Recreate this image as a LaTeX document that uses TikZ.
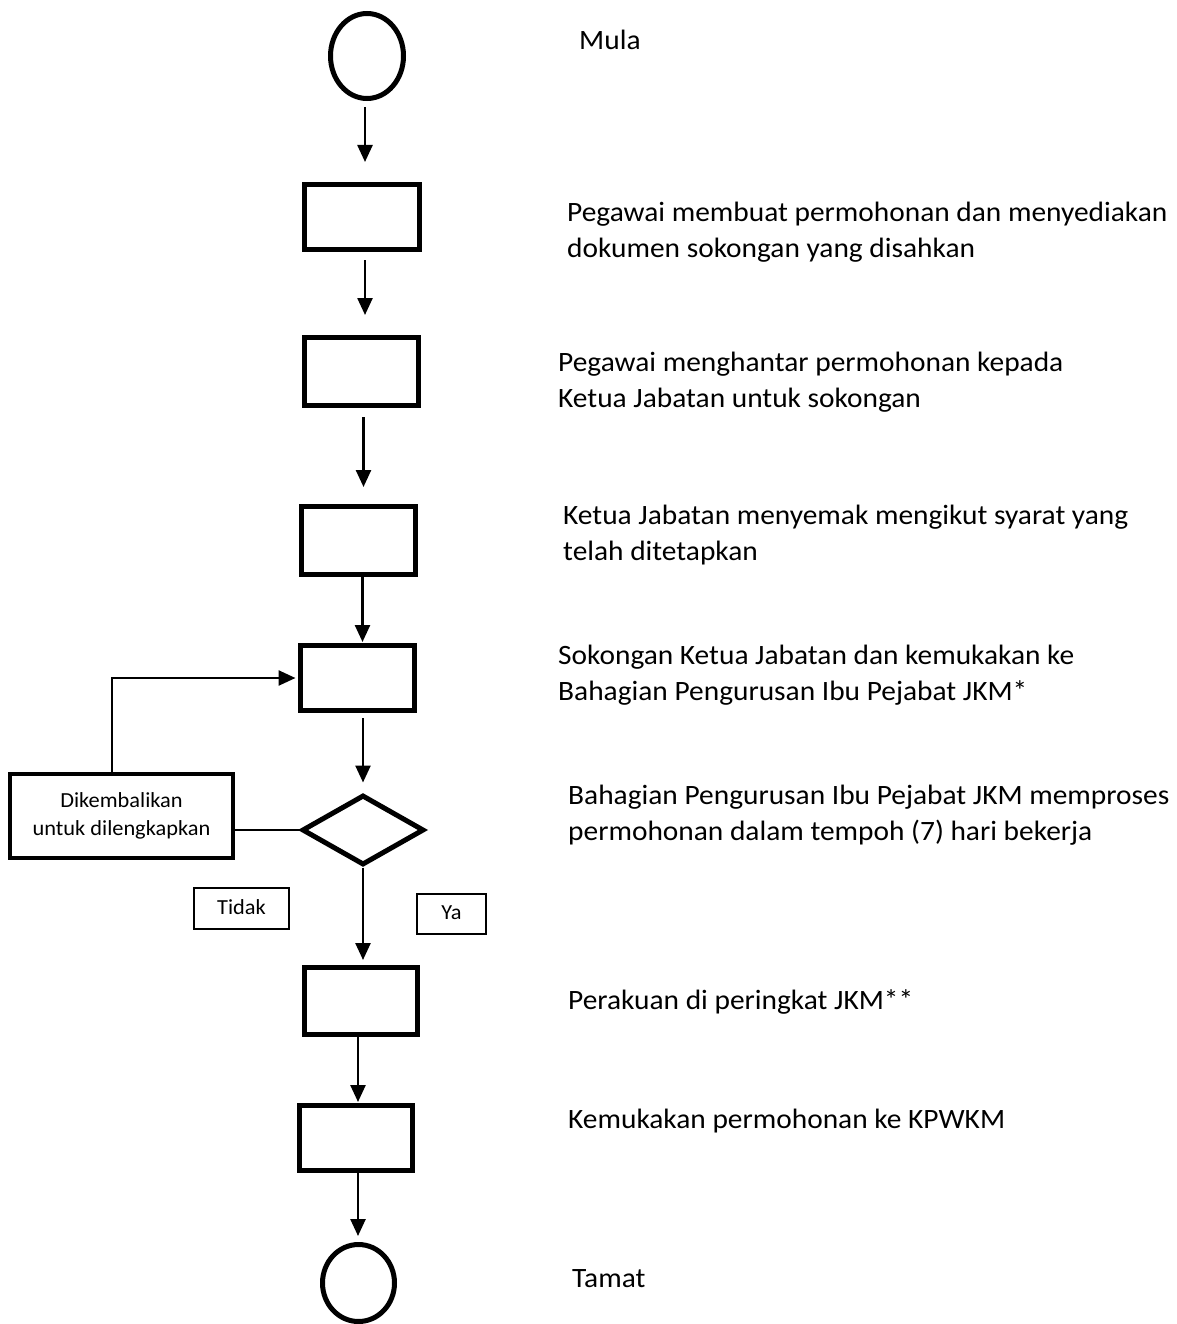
\documentclass[tikz,border=0pt]{standalone}
\usepackage{fontspec}
\setmainfont{Carlito}
\newfontfamily\descfont{Carlito}[FakeStretch=1.05]
\newfontfamily\smallfont{Carlito}[FakeStretch=1.04]
\usetikzlibrary{arrows.meta,shapes.geometric,calc}
\begin{document}
\begin{tikzpicture}[x=1pt,y=-1pt,
  proc/.style={draw,line width=5pt,rectangle,inner sep=0pt},
  term/.style={draw,line width=5pt,ellipse,inner sep=0pt},
  decide/.style={draw,line width=5pt,diamond,inner sep=0pt,line join=miter},
  thinbox/.style={draw,line width=2pt,rectangle,inner sep=0pt,font=\smallfont\fontsize{21.5}{28}\selectfont,align=center},
  arr/.style={line width=2.5pt,-{Triangle[length=17pt,width=15pt]}},
  conn/.style={line width=2.5pt},
  lbl/.style={anchor=base west,inner sep=0pt,font=\descfont\fontsize{28}{36}\selectfont,align=left}
]
\useasboundingbox (0,0) rectangle (1176,1324);
\fill[white] (0,0) rectangle (1176,1324);

% flow nodes
\node[term,minimum width=73pt,minimum height=85pt] (start) at (367,56) {};
\node[proc,minimum width=115pt,minimum height=65pt] (b1) at (362,217) {};
\node[proc,minimum width=114pt,minimum height=68pt] (b2) at (361.5,371.5) {};
\node[proc,minimum width=114pt,minimum height=68pt] (b3) at (358.5,540.5) {};
\node[proc,minimum width=114pt,minimum height=65pt] (b4) at (357.5,678) {};
\node[decide,minimum width=122pt,minimum height=70pt] (dia) at (363,830) {};
\node[thinbox,line width=3.5pt,minimum width=223pt,minimum height=84pt] (ret) at (121.5,816) {Dikembalikan\\untuk dilengkapkan};
\node[thinbox,minimum width=95pt,minimum height=41pt,text depth=2pt] (tidak) at (241.5,908.5) {Tidak};
\node[thinbox,minimum width=69pt,minimum height=40pt,text depth=2pt] (ya) at (451.5,914) {Ya};
\node[proc,minimum width=113pt,minimum height=67pt] (b5) at (361,1001) {};
\node[proc,minimum width=113pt,minimum height=65pt] (b6) at (356,1138) {};
\node[term,minimum width=72pt,minimum height=77pt] (end) at (358.5,1283) {};

% connectors
\draw[arr,shorten <=6pt,shorten >=20pt] ([xshift=-2pt]start.south) -- ([xshift=-2pt]start.south |- b1.north);
\draw[arr,shorten <=8pt,shorten >=20pt] ([xshift=3pt]b1.south) -- ([xshift=3pt]b1.south |- b2.north);
\draw[arr,shorten <=9pt,shorten >=17pt] ([xshift=2pt]b2.south) -- ([xshift=2pt]b2.south |- b3.north);
\draw[arr,shorten <=0pt,shorten >=1pt] ([xshift=4pt]b3.south) -- ([xshift=4pt]b3.south |- b4.north);
\draw[arr,shorten <=5pt,shorten >=10pt] ([xshift=5.5pt]b4.south) -- ([xshift=5.5pt]b4.south |- dia.north);
\draw[arr,shorten >=5pt] (dia.south) -- (dia.south |- b5.north);
\draw[arr,shorten >=1pt] ([xshift=-3pt]b5.south) -- ([xshift=-3pt]b5.south |- b6.north);
\draw[arr,shorten >=6pt] ([xshift=2pt]b6.south) -- ([xshift=2pt]b6.south |- end.north);
\draw[conn] (dia.west) -- (dia.west -| ret.east);
\draw[arr,shorten >=2.5pt] ($(ret.north)+(-9.5,0)$) |- (b4.west);

% descriptions (anchor = baseline of the last line)
\node[lbl] (t0) at (579,50) {Mula};
\node[lbl] (t1) at (567,258) {Pegawai membuat permohonan dan menyediakan\\dokumen sokongan yang disahkan};
\node[lbl] (t2) at (558,407) {Pegawai menghantar permohonan kepada\\Ketua Jabatan untuk sokongan};
\node[lbl] (t3) at (563,560) {Ketua Jabatan menyemak mengikut syarat yang\\telah ditetapkan};
\node[lbl] (t4) at (558,700) {Sokongan Ketua Jabatan dan kemukakan ke\\Bahagian Pengurusan Ibu Pejabat JKM*};
\node[lbl] (t5) at (568,840) {Bahagian Pengurusan Ibu Pejabat JKM memproses\\permohonan dalam tempoh (7) hari bekerja};
\node[lbl] (t6) at (568,1009) {Perakuan di peringkat JKM**};
\node[lbl] (t7) at (568,1128) {Kemukakan permohonan ke KPWKM};
\node[lbl] (t8) at (572,1287) {Tamat};
\end{tikzpicture}
\end{document}
